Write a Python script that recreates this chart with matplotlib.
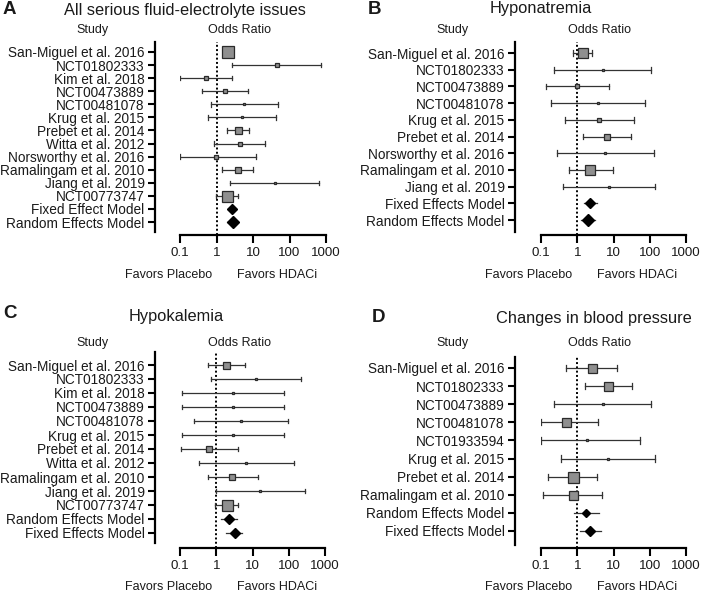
import matplotlib
matplotlib.use("Agg")
from matplotlib import pyplot as plt

plt.rcParams['font.family'] = ['Liberation Sans', 'DejaVu Sans']

W, H = 701, 592
TXT = "#1a1a1a"

# A - all serious fluid-electrolyte issues
a_studies = ["San-Miguel et al. 2016", "NCT01802333", "Kim et al. 2018", "NCT00473889",
             "NCT00481078", "Krug et al. 2015", "Prebet et al. 2014", "Witta et al. 2012",
             "Norsworthy et al. 2016", "Ramalingam et al. 2010", "Jiang et al. 2019",
             "NCT00773747", "Fixed Effect Model", "Random Effects Model"]
a_or = [2.1, 45, 0.5, 1.66, 5.8, 4.9, 3.9, 4.4, 0.94, 3.9, 39, 1.95, 2.6, 2.75]
a_lo = [1.6, 2.6, 0.1, 0.39, 0.7, 0.58, 1.96, 0.86, 0.1, 1.46, 2.4, 0.95, 2.1, 2.0]
a_hi = [2.7, 750, 2.7, 7.1, 47, 44, 7.9, 22, 11.8, 10, 640, 4.0, 3.2, 3.7]
a_box = [11.5, 4, 4, 4, 2.5, 2.5, 7, 4, 4, 6, 2.5, 11, 10, 12]

# B - hyponatremia
b_studies = ["San-Miguel et al. 2016", "NCT01802333", "NCT00473889", "NCT00481078",
             "Krug et al. 2015", "Prebet et al. 2014", "Norsworthy et al. 2016",
             "Ramalingam et al. 2010", "Jiang et al. 2019", "Fixed Effects Model",
             "Random Effects Model"]
b_or = [1.4, 5.0, 1.0, 3.8, 4.0, 6.7, 5.9, 2.3, 7.6, 2.3, 1.96]
b_lo = [0.78, 0.23, 0.14, 0.19, 0.45, 1.46, 0.27, 0.6, 0.41, 1.5, 1.3]
b_hi = [2.6, 107, 7.3, 76, 36, 31, 129, 9.4, 140, 3.4, 3.1]
b_box = [10, 2.5, 4, 2.5, 4, 6, 2.5, 10, 2.5, 10, 12]

# C - hypokalemia
c_studies = ["San-Miguel et al. 2016", "NCT01802333", "Kim et al. 2018", "NCT00473889",
             "NCT00481078", "Krug et al. 2015", "Prebet et al. 2014", "Witta et al. 2012",
             "Ramalingam et al. 2010", "Jiang et al. 2019", "NCT00773747",
             "Random Effects Model", "Fixed Effects Model"]
c_or = [1.9, 12.6, 2.9, 2.9, 4.9, 2.9, 0.64, 6.8, 2.8, 16.3, 2.0, 2.3, 3.2]
c_lo = [0.59, 0.71, 0.116, 0.116, 0.25, 0.116, 0.107, 0.34, 0.59, 0.97, 0.93, 1.37, 1.8]
c_hi = [6.4, 224, 73, 73, 94, 73, 4.0, 137, 14, 275, 4.1, 3.8, 5.2]
c_box = [7, 2.5, 2.5, 2.5, 2.5, 2.5, 6, 2.5, 6, 2.5, 11, 10, 11]

# D - changes in blood pressure
d_studies = ["San-Miguel et al. 2016", "NCT01802333", "NCT00473889", "NCT00481078",
             "NCT01933594", "Krug et al. 2015", "Prebet et al. 2014",
             "Ramalingam et al. 2010", "Random Effects Model", "Fixed Effects Model"]
d_or = [2.5, 7.1, 5.2, 0.49, 1.9, 7.1, 0.74, 0.74, 1.73, 2.2]
d_lo = [0.49, 1.6, 0.23, 0.1, 0.1, 0.35, 0.16, 0.115, 0.83, 1.18]
d_hi = [12.6, 32.6, 107, 3.8, 55, 140, 3.4, 4.9, 3.95, 4.4]
d_box = [9, 9, 2.5, 9, 2.5, 2.5, 11, 9, 9, 10]

xticks = [0.1, 1, 10, 100, 1000]
xlabels = ["0.1", "1", "10", "100", "1000"]

fig = plt.figure(figsize=(W / 100, H / 100), dpi=100)


def ftext(x, y, s, **kw):
    fig.text(x / W, 1 - y / H, s, color=TXT, va="center", **kw)


def forest(studies, ors, lo, hi, box, spine_x, x0, x1, top, bottom, first, last, axis_y):
    n = len(studies)
    step = (last - first) / (n - 1)
    ax = fig.add_axes([x0 / W, 1 - axis_y / H, (x1 - x0) / W, (axis_y - top) / H])
    ax.set_xscale("log")
    ax.set_xlim(0.1, 1000)
    ax.set_ylim((axis_y - first) / step, (top - first) / step)

    ax.axvline(1, color="black", ls=(0, (1, 1.2)), lw=1.4, zorder=1)
    for i in range(n):
        model = "Model" in studies[i]
        ax.plot([lo[i], hi[i]], [i, i], color="#333333", lw=0.9, zorder=2)
        if not model:
            ax.plot([lo[i], lo[i]], [i - 0.17, i + 0.17], color="#333333", lw=0.9, zorder=2)
            ax.plot([hi[i], hi[i]], [i - 0.17, i + 0.17], color="#333333", lw=0.9, zorder=2)
            ax.plot(ors[i], i, marker="s", ms=box[i] * 0.72, mfc="#8f8f8f",
                    mec="#2a2a2a", mew=0.9, zorder=3)
        else:
            ax.plot(ors[i], i, marker="D", ms=box[i] * 0.5, mfc="black",
                    mec="black", zorder=3)

    ax.set_yticks(range(n))
    ax.set_yticklabels(studies)
    ax.set_xticks(xticks)
    ax.set_xticklabels(xlabels)
    ax.minorticks_off()
    ax.tick_params(axis="y", length=5, width=1.5, pad=2.5, labelsize=9.8, labelcolor=TXT)
    ax.tick_params(axis="x", length=5.5, width=1.5, pad=3, labelsize=9.6, labelcolor=TXT)

    for s in ["top", "right"]:
        ax.spines[s].set_visible(False)
    ax.spines["left"].set_position(("outward", (x0 - spine_x) * 0.72))
    ax.spines["left"].set_bounds((bottom - first) / step, (top - first) / step)
    ax.spines["left"].set_linewidth(1.6)
    ax.spines["bottom"].set_linewidth(1.6)
    ax.patch.set_visible(False)
    return ax


forest(a_studies, a_or, a_lo, a_hi, a_box, 155, 180, 326, 42, 232, 52, 222, 235)
forest(b_studies, b_or, b_lo, b_hi, b_box, 515, 541, 686, 42, 232, 53, 220, 235)
forest(c_studies, c_or, c_lo, c_hi, c_box, 155, 180, 325, 352, 543, 365, 533, 548)
forest(d_studies, d_or, d_lo, d_hi, d_box, 515, 541, 686, 357, 545, 368, 531, 548)

# panel letters and titles
ftext(3, 9, "A", fontsize=13.5, fontweight="bold", ha="left")
ftext(368, 9, "B", fontsize=13.5, fontweight="bold", ha="left")
ftext(3, 313, "C", fontsize=13.5, fontweight="bold", ha="left")
ftext(372, 318, "D", fontsize=13.5, fontweight="bold", ha="left")

ftext(185, 10, "All serious fluid-electrolyte issues", fontsize=11.8, ha="center")
ftext(541, 9, "Hyponatremia", fontsize=11.8, ha="center")
ftext(176, 316, "Hypokalemia", fontsize=11.8, ha="center")
ftext(594, 318, "Changes in blood pressure", fontsize=11.8, ha="center")

for sx, y_head, y_fav in [(155, 30, 275), (515, 30, 275), (155, 343, 587), (515, 343, 587)]:
    ftext(sx - 63, y_head, "Study", fontsize=9, ha="center")
    ftext(sx + 84, y_head, "Odds Ratio", fontsize=9, ha="center")
    ftext(sx + 14, y_fav, "Favors Placebo", fontsize=9, ha="center")
    ftext(sx + 122, y_fav, "Favors HDACi", fontsize=9, ha="center")

plt.savefig("out.png", dpi=100)
